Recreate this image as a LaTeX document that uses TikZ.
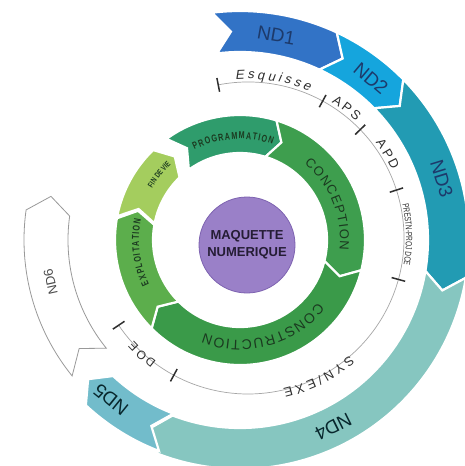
\documentclass[tikz,border=0pt]{standalone}
\usepackage{fontspec}
\setmainfont{Liberation Sans}
\newfontfamily\narrowf[FakeStretch=0.72]{Liberation Sans}
\newfontfamily\slantf[FakeSlant=0.2]{Liberation Sans}
\usetikzlibrary{decorations.text}
\definecolor{cnda}{HTML}{3273C6}
\definecolor{cndb}{HTML}{15A5DD}
\definecolor{cndc}{HTML}{229BB3}
\definecolor{cndd}{HTML}{86C6C0}
\definecolor{cnde}{HTML}{72BCCB}
\definecolor{cprog}{HTML}{2F9C6C}
\definecolor{cconc}{HTML}{3E9E4E}
\definecolor{ccons}{HTML}{3A9A49}
\definecolor{cexpl}{HTML}{5CAE4C}
\definecolor{cfin}{HTML}{A4CD5E}
\definecolor{cpurp}{HTML}{9A80C8}
\definecolor{cpurpd}{HTML}{7D62B0}
\definecolor{ctxtnd}{HTML}{1D3A6B}
\definecolor{ctxtgr}{HTML}{1B3A20}
\definecolor{ctxtlab}{HTML}{2E2E2E}
\newcommand\ka{\kern3.2pt}
\newcommand\kb{\kern2.5pt}
\newcommand\kc{\kern1.2pt}
% segment: a1, a2, ri, ro, tip, notch, style
\newcommand\seg[7]{\path[#7] ({#1}:#4) arc[start angle={#1}, end angle={#2+#5}, radius=#4] -- ({#2}:{(#3+#4)/2}) -- ({#2+#5}:#3) arc[start angle={#2+#5}, end angle={#1}, radius=#3] -- ({#1-#6}:{(#3+#4)/2}) -- cycle;}
% text on clockwise arc: a1, a2, radius, format, text
\newcommand\arctext[5]{\path[decorate, decoration={text along path, text align=center, text={|#4|#5}}] ({#1}:#3) arc[start angle={#1}, end angle={#2}, radius=#3];}
\tikzset{
  segbox/.style={fill=#1, draw=white, line width=2.2pt, line join=miter},
  ndlab/.style={font=\fontsize{19}{19}\selectfont, text=ctxtnd, inner sep=0pt},
  tickmark/.style={draw=ctxtlab, line width=1.5pt},
  labline/.style={draw=black!35, line width=0.7pt}
}
\begin{document}
\begin{tikzpicture}[x=1pt,y=1pt]
\useasboundingbox (0,0) rectangle (464,-466);
\fill[white] (0,0) rectangle (464,-466);
\begin{scope}[shift={(240,-240)}]
% outer ring
\seg{97}{60.5}{188}{229}{4.5}{4.5}{segbox=cnda}
\seg{65}{40}{188}{229}{4.5}{4.5}{segbox=cndb}
\seg{44.5}{-14}{188}{229}{4.5}{4.5}{segbox=cndc}
\seg{-9.5}{-115.5}{188}{229}{4.5}{4.5}{segbox=cndd}
\seg{-111}{-137.5}{186}{226}{4.5}{4.5}{segbox=cnde}
\seg{-141}{-193}{172}{216}{5}{5}{fill=white, draw=black!40, line width=0.8pt}
\node[ndlab, rotate=-10] (nd1) at (80:208) {ND1};
\node[ndlab, rotate=-40] (nd2) at (51:208) {ND2};
\node[ndlab, rotate=-73] (nd3) at (17:211) {ND3};
\node[ndlab, rotate=-153.5, text=black!75!cndc] (nd4) at (-63.5:209) {ND4};
\node[ndlab, rotate=141, text=black!75!cndc] (nd5) at (231:205) {ND5};
\node[ndlab, rotate=102.5, text=black!70, font=\fontsize{13}{13}\selectfont] (nd6) at (192.5:194) {ND6};
% label ring
\begin{scope}[shift={(8,2)}]
\draw[labline] (101:156) arc[start angle=101, end angle=-146, radius=156];
\foreach \a in {101,61.4,44,17.9,-15.4,-118.4,-146}{
  \draw[tickmark] (\a:149) -- (\a:163);
}
\arctext{100}{62}{159}{\color{ctxtlab}\slantf\fontsize{13}{13}\selectfont}{{E\ka}{s\ka}{q\ka}{u\ka}{i\ka}{s\ka}{s\ka}{e}}
\arctext{61.4}{44}{159}{\color{ctxtlab}\fontsize{13}{13}\selectfont}{{A\kb}{P\kb}{S}}
\arctext{44}{17.9}{159}{\color{ctxtlab}\fontsize{13}{13}\selectfont}{{A\kb}{P\kb}{D}}
\arctext{17.9}{-15.4}{158}{\color{ctxtlab}\narrowf\fontsize{9}{9}\selectfont}{PRESTN-PROJ DCE}
\arctext{-38}{-88}{155}{\color{ctxtlab}\fontsize{13}{13}\selectfont}{{S\ka}{Y\ka}{N\ka}{/\ka}{E\ka}{X\ka}{E}}
\arctext{-118.4}{-146}{154}{\color{ctxtlab}\fontsize{12}{12}\selectfont}{{D\kb}{O\kb}{E}}
\end{scope}
% inner ring
\seg{126}{67}{87}{125}{6}{6}{segbox=cprog}
\seg{73}{-20}{87}{125}{6}{6}{segbox=cconc}
\seg{-14}{-141}{87}{125}{6}{6}{segbox=ccons}
\seg{-135}{-196}{87}{125}{6}{6}{segbox=cexpl}
\seg{-191}{-232}{87}{125}{6}{6}{segbox=cfin}
\arctext{116}{72}{101}{\color{ctxtgr}\narrowf\bfseries\fontsize{10}{10}\selectfont}{{P\kc}{R\kc}{O\kc}{G\kc}{R\kc}{A\kc}{M\kc}{M\kc}{A\kc}{T\kc}{I\kc}{O\kc}{N}}
\arctext{52}{-8}{100}{\color{ctxtgr}\fontsize{13}{13}\selectfont}{{C\kc}{O\kc}{N\kc}{C\kc}{E\kc}{P\kc}{T\kc}{I\kc}{O\kc}{N}}
\arctext{-33}{-117}{100}{\color{ctxtgr}\fontsize{14}{14}\selectfont}{{C\kc}{O\kc}{N\kc}{S\kc}{T\kc}{R\kc}{U\kc}{C\kc}{T\kc}{I\kc}{O\kc}{N}}
\arctext{-148}{-198}{101}{\color{ctxtgr}\narrowf\bfseries\fontsize{10}{10}\selectfont}{{E\kc}{X\kc}{P\kc}{L\kc}{O\kc}{I\kc}{T\kc}{A\kc}{T\kc}{I\kc}{O\kc}{N}}
\arctext{157}{125}{102}{\color{ctxtgr}\narrowf\bfseries\fontsize{8}{8}\selectfont}{FIN DE VIE}
% center
\node[circle, fill=cpurp, draw=cpurpd, line width=0.8pt, minimum size=96pt, inner sep=0pt, align=center, font=\bfseries\fontsize{13}{17}\selectfont, text=black!70!cpurpd] (maq) at (7,-5) {MAQUETTE\\NUMERIQUE};
\end{scope}
\end{tikzpicture}
\end{document}
